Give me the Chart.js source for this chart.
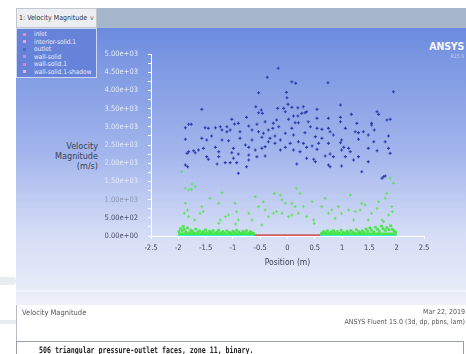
<!DOCTYPE html>
<html><head><meta charset="utf-8">
<script src="https://cdn.jsdelivr.net/npm/chart.js@4/dist/chart.umd.min.js"></script>
<style>
body{margin:0;width:466px;height:354px;background:#fff;position:relative;overflow:hidden;font-family:"Liberation Sans Narrow","DejaVu Sans Condensed",sans-serif}
.a{position:absolute;white-space:nowrap}
</style></head><body>
<div class="a" style="left:0;top:277px;width:16px;height:8px;background:#e8ebef;border-radius:0 6px 6px 0"></div>
<div class="a" style="left:0;top:320px;width:16px;height:4px;background:#e8ebef"></div>
<div class="a" style="left:16px;top:8px;width:450px;height:346px;border-left:1px solid #b8bcc6;box-sizing:border-box"></div>
<div class="a" style="left:16px;top:8px;width:450px;height:20px;background:#a6b6cb"></div>
<div class="a" style="left:16px;top:28px;width:450px;height:277px;background:linear-gradient(#6b8ae0 0%,#7c98e2 12%,#a2b5ec 45%,#d6def6 75%,#e8ecf8 95%,#eef1fa 100%)"></div>
<div class="a" style="left:16px;top:290px;width:450px;height:2px;background:#f2f4fc"></div>
<div class="a" style="left:16px;top:8px;width:81px;height:20px;background:#eceef2;border:1px solid #c2c6ce;box-sizing:border-box;font-size:7px;line-height:18px;padding-left:2px;color:#333">1: Velocity Magnitude<span style="position:absolute;left:73px;color:#666">v</span></div>
<div class="a" id="leg" style="left:16px;top:28px;width:81px;height:50px;background:#6683d9;border:1px solid #cdd8f4;box-sizing:border-box"></div>
<div class="a" style="right:2px;top:40px;font-weight:bold;font-size:10.5px;color:#f4f6fc;letter-spacing:-0.2px">ANSYS</div>
<div class="a" style="right:2px;top:53px;font-size:5px;color:#c8d4f4">R15.0</div>
<div class="a" style="right:368px;top:141px;font-size:9px;line-height:10px;text-align:right;color:#3c4254">Velocity<br>Magnitude<br>(m/s)</div>
<canvas id="c" width="466" height="354" class="a" style="left:0;top:0"></canvas>
<div class="a" style="left:22px;top:308px;font-size:7.5px;color:#555">Velocity Magnitude</div>
<div class="a" style="right:1px;top:308px;font-size:7px;color:#555">Mar 22, 2019</div>
<div class="a" style="right:1px;top:318px;font-size:7px;color:#555">ANSYS Fluent 15.0 (3d, dp, pbns, lam)</div>
<div class="a" style="left:16px;top:341px;width:448px;height:20px;border:1px solid #9a9ea6;box-sizing:border-box"></div>
<div class="a" style="left:39px;top:345px;font-family:'DejaVu Sans Mono',monospace;font-weight:bold;font-size:6.6px;color:#222;transform:scale(1,1.35);transform-origin:left top">506 triangular pressure-outlet faces, zone 11, binary.</div>
<script>
// ---- data ----
const legendNames = ["inlet","interior-solid.1","outlet","wall-solid","wall-solid.1","wall-solid.1-shadow"];
const legendColors = ["#e48ac8","#f0a0d8","#4a68d8","#c090e0","#e080c0","#f0b0e0"];
const xTickLabels = ["-2.5","-2","-1.5","-1","-0.5","0","0.5","1","1.5","2","2.5"];
const yTickLabels = ["0.00e+00","5.00e+02","1.00e+03","1.50e+03","2.00e+03","2.50e+03","3.00e+03","3.50e+03","4.00e+03","4.50e+03","5.00e+03"];

const blueX = [-0.17,-0.37,-0.53,-0.02,-0.01,-1.57,-0.58,-0.48,-0.53,-0.46,-0.18,-0.07,0.01,-0.04,0.02,-1.02,-0.75,-0.90,-0.20,-0.26,-0.16,-0.27,-1.81,-1.76,-1.87,-1.51,-1.45,-1.32,-1.23,-1.11,-1.05,-0.97,-0.71,-0.56,-0.41,-0.35,-0.44,-0.53,-0.65,-0.87,-1.11,-1.20,-1.39,-1.48,-1.57,-1.87,-1.20,-1.08,-0.87,-0.65,-0.47,-0.32,-0.23,-0.13,-0.04,0.08,-0.23,-0.35,-0.77,-0.71,-0.59,-0.47,-0.41,-0.99,-1.32,-1.54,-1.63,-1.72,-1.81,-1.84,-1.69,-1.26,-1.02,-0.90,-0.71,-0.56,-0.41,-0.13,-0.04,-1.48,-1.45,-1.26,-0.99,-1.14,-1.05,-0.93,-1.29,-0.71,-1.87,-1.83,-0.75,-0.90,
0.08,0.15,0.74,1.94,0.97,0.19,0.29,0.35,0.54,0.11,0.19,0.26,0.32,0.54,0.75,0.97,1.17,1.64,1.67,0.14,0.20,0.38,0.97,1.27,1.54,1.82,1.88,0.08,0.42,0.54,0.63,0.75,0.78,0.84,1.06,1.24,1.30,1.39,1.48,1.54,1.59,1.85,0.11,0.32,0.51,0.63,0.99,1.30,0.05,0.20,0.29,0.45,0.57,0.75,0.97,1.03,1.12,1.15,1.48,1.58,1.64,1.79,1.85,1.88,0.11,0.23,0.35,0.54,0.69,0.78,0.84,0.99,1.06,1.21,1.30,1.48,0.17,0.35,0.48,0.51,0.75,0.78,0.99,1.36,1.76,1.73,1.79];
const blueY = [4607,4360,3937,3947,3800,3480,3552,3461,3387,3370,3507,3507,3617,3415,3205,3205,3260,3095,3187,3095,3003,2958,3068,3068,2975,2975,2958,2975,3003,3003,2912,3077,3022,3068,3140,2912,2821,2866,2912,2866,2866,2912,2747,2637,2683,2656,2637,2618,2683,2637,2711,2683,2747,2637,2821,3535,2546,2591,2500,2436,2363,2408,2454,2408,2436,2408,2363,2344,2317,2271,2289,2317,2289,2253,2225,2180,2198,2363,2436,2180,2107,2180,2134,2015,2015,2015,1978,2088,1950,1904,1904,1722,
4239,4193,4211,3964,3599,3525,3552,3415,3480,3296,3296,3370,3387,3232,3232,3260,3342,3415,3342,3113,3113,3140,3140,3095,3095,3187,3205,2958,3003,2958,2930,2958,2866,2775,2958,2866,2839,2866,2775,3049,2912,2747,2775,2839,2729,2683,2637,2656,2546,2591,2546,2472,2546,2546,2563,2436,2408,2317,2408,2591,2344,2591,2408,2271,2363,2317,2436,2381,2198,2253,2180,2363,2180,2088,2180,2042,1978,2134,2107,2042,1950,1904,1923,1767,1629,1585,1648];

const greenX = [-1.94,-1.69,-1.76,-1.87,-1.83,-1.89,-1.81,-1.57,-1.54,-1.60,-1.70,-1.42,-1.26,-1.20,-1.23,-1.14,-1.08,-0.96,-0.93,-0.90,-0.95,-0.71,-0.65,-0.59,-0.53,-0.44,-0.41,-0.35,-0.26,-0.24,-0.13,-0.10,-0.04,-0.20,-0.10,0.02,0.14,0.08,-0.47,-1.81,-1.26,-1.75,-1.87,
0.16,0.23,0.08,0.20,0.29,0.35,0.45,0.48,0.49,0.63,0.69,0.75,0.81,0.87,0.93,0.99,1.15,1.12,1.21,1.24,1.33,1.36,1.42,1.48,1.54,1.64,1.67,1.73,1.76,1.79,1.82,1.85,1.91,1.92,1.94,1.88];
const greenY = [1767,1354,1282,898,714,623,531,806,668,623,440,1035,348,1190,440,531,577,898,668,440,330,623,440,1080,806,943,714,531,623,1172,1126,989,898,668,623,531,806,577,302,1264,898,1428,1310,
1310,1172,898,623,806,531,943,440,348,806,1035,623,714,486,806,623,1126,714,440,668,714,898,852,440,623,760,943,440,394,1035,1172,577,806,668,1447,1585];

const bandX = [-1.99,-1.96,-1.93,-1.91,-1.89,-1.86,-1.83,-1.80,-1.77,-1.74,-1.71,-1.68,-1.64,-1.61,-1.57,-1.54,-1.50,-1.47,-1.43,-1.40,-1.36,-1.33,-1.29,-1.26,-1.22,-1.18,-1.15,-1.11,-1.07,-1.04,-1.00,-0.96,-0.93,-0.89,-0.85,-0.82,-0.78,-0.75,-0.71,-0.68,-0.65,-0.62,
0.63,0.66,0.70,0.73,0.77,0.80,0.84,0.87,0.91,0.95,0.98,1.02,1.05,1.09,1.12,1.16,1.19,1.23,1.26,1.30,1.33,1.37,1.40,1.44,1.47,1.51,1.54,1.58,1.61,1.65,1.68,1.72,1.75,1.79,1.82,1.86,1.89,1.92,1.95,1.98];
const bandY = [120,200,150,260,180,110,220,90,160,130,80,190,110,140,70,120,170,90,130,100,150,70,110,160,90,120,70,140,100,80,130,90,160,110,70,130,100,150,80,120,90,60,
80,120,90,140,70,110,150,90,120,80,160,100,70,130,90,150,110,80,170,120,90,140,100,190,130,220,160,110,240,180,130,270,200,150,230,170,280,190,140,110];

const stripLeftX = [-2.0, -0.6], stripRightX = [0.6, 2.0], stripY = [60, 60];
const cyanX = [-2.0, 2.0], cyanY = [0, 0];
const redX = [-0.6, 0.6], redY = [0, 0];

// ---- legend (html) ----
const leg = document.getElementById('leg');
legendNames.forEach((n,i)=>{
  const d=document.createElement('div');
  d.className='a';
  d.style.cssText=`left:6px;top:${2+i*7.5}px;font-size:6.5px;line-height:7px;color:#e6ecfc`;
  d.innerHTML=`<span style="display:inline-block;width:3px;height:3px;background:${legendColors[i]};margin-right:8px;vertical-align:middle"></span>${n}`;
  leg.appendChild(d);
});

const pts = (xs,ys)=>xs.map((x,i)=>({x, y: ys[i]}));
const FONT = '"Liberation Sans Narrow","DejaVu Sans Condensed",sans-serif';

new Chart(document.getElementById('c'), {
  type: 'scatter',
  data: { datasets: [
    { label:'red', data: pts(redX,redY), showLine:true, borderColor:'#e25a64', borderWidth:3.5, pointRadius:0, order:0 },
    { label:'band', data: pts(bandX,bandY), pointStyle:'rect', pointRadius:1.5, borderWidth:0.6, backgroundColor:'#46e646', borderColor:'#46e646', order:1 },
    { label:'stripL', data: pts(stripLeftX,stripY), showLine:true, borderColor:'#46e646', borderWidth:2.5, pointRadius:0, order:1 },
    { label:'stripR', data: pts(stripRightX,stripY), showLine:true, borderColor:'#46e646', borderWidth:2.5, pointRadius:0, order:1 },
    { label:'cyan', data: pts(cyanX,cyanY), showLine:true, borderColor:'#36ecd8', borderWidth:3, pointRadius:0, order:2 },
    { label:'green', data: pts(greenX,greenY), pointStyle:'cross', pointRadius:1.5, borderWidth:1, borderColor:'#62e062', order:3 },
    { label:'blue', data: pts(blueX,blueY), pointStyle:'cross', pointRadius:1.5, borderWidth:1.1, borderColor:'#2c3eae', order:4 }
  ]},
  options: {
    responsive:false, animation:false, devicePixelRatio:1,
    layout:{ padding:{ left:91, top:54, right:42, bottom:82 } },
    plugins:{ legend:{display:false}, tooltip:{enabled:false} },
    scales:{
      x:{ type:'linear', min:-2.5, max:2.5,
        afterBuildTicks(s){ s.ticks = xTickLabels.map(t=>({value:parseFloat(t)})); },
        afterFit(s){ s.height = 36; },
        ticks:{ autoSkip:false, maxRotation:0, padding:5, color:'#3c4254', font:{family:FONT,size:7.5},
          callback:(v)=>{ const i = xTickLabels.findIndex(t=>Math.abs(parseFloat(t)-v)<1e-6); return i>=0?xTickLabels[i]:''; } },
        grid:{ drawOnChartArea:false, color:'#ffffff', tickLength:3 },
        border:{ color:'#ffffff', width:1 },
        title:{ display:true, text:'Position (m)', color:'#3c4254', font:{family:FONT,size:8.5}, padding:{top:4,bottom:4} }
      },
      y:{ min:0, max:5000,
        afterBuildTicks(s){ const t=[]; for(let k=0;k<yTickLabels.length;k++){ t.push({value:k*500}); if(k<yTickLabels.length-1) t.push({value:k*500+250}); } s.ticks=t; },
        afterFit(s){ s.width = 60; },
        ticks:{ autoSkip:false, padding:10, font:{family:FONT,size:7.5},
          color:(c)=>{ const v=c.tick.value; return v>=1500?'#e4e9f7':(v>=1000?'#8e98b4':'#4a5066'); },
          callback:(v)=>{ const k=v/500; return Number.isInteger(k)?yTickLabels[k]:''; } },
        grid:{ drawOnChartArea:false, color:'#ffffff', tickLength:3 },
        border:{ color:'#ffffff', width:1 }
      }
    }
  }
});
</script>
</body></html>
